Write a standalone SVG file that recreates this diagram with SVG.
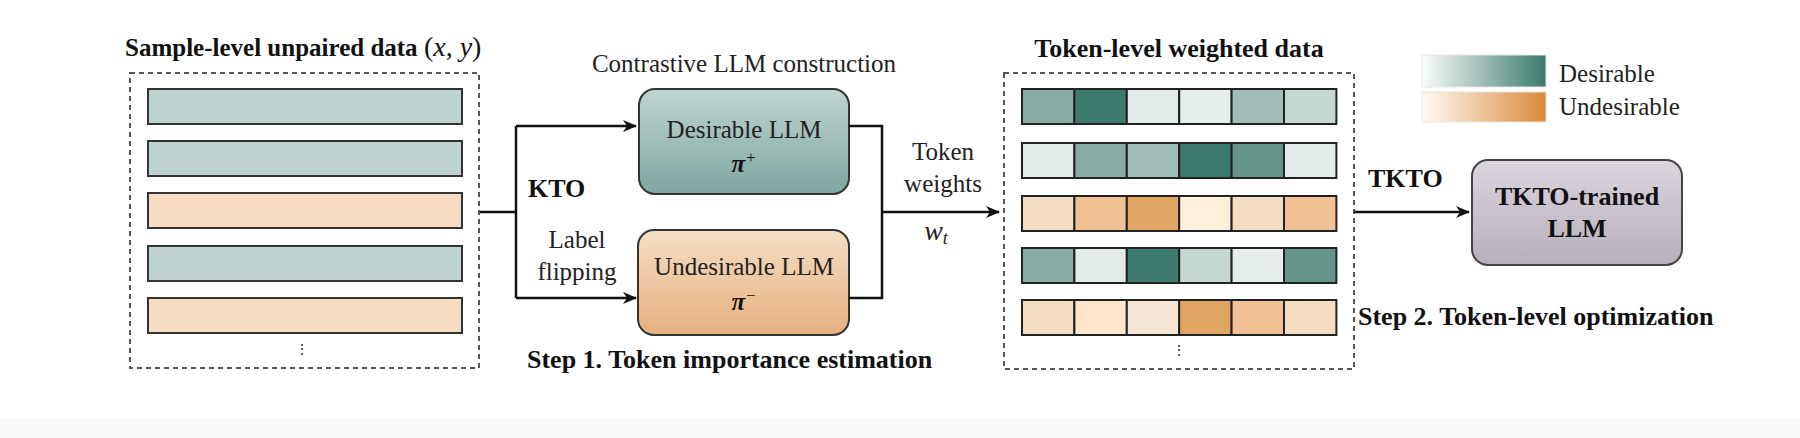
<svg xmlns="http://www.w3.org/2000/svg" width="1800" height="438" viewBox="0 0 1800 438">
<style>
.t{font-family:"Liberation Serif","Times New Roman",serif;fill:#222}
.b{font-weight:bold;fill:#111}
.dash{fill:none;stroke:#555;stroke-width:2;stroke-dasharray:5 4}
.bar{stroke:#333;stroke-width:2}
.cell{stroke:#222;stroke-width:2}
.ln{fill:none;stroke:#111;stroke-width:2.5}
</style>
<defs>
<marker id="ah" viewBox="0 0 14 12" refX="13" refY="6" markerWidth="14" markerHeight="12" markerUnits="userSpaceOnUse" orient="auto"><path d="M0,0 L14,6 L0,12 L4,6 Z" fill="#111"/></marker>
<linearGradient id="gD" x1="0" y1="0" x2="0" y2="1"><stop offset="0" stop-color="#bfd5d1"/><stop offset="1" stop-color="#7ea6a0"/></linearGradient>
<linearGradient id="gU" x1="0" y1="0" x2="0" y2="1"><stop offset="0" stop-color="#f6dec4"/><stop offset="1" stop-color="#e6b07e"/></linearGradient>
<linearGradient id="gT" x1="0" y1="0" x2="0" y2="1"><stop offset="0" stop-color="#dbd5de"/><stop offset="1" stop-color="#b7afbb"/></linearGradient>
<linearGradient id="lD" x1="0" y1="0" x2="1" y2="0"><stop offset="0" stop-color="#fbfdfc"/><stop offset="1" stop-color="#3b7a6c"/></linearGradient>
<linearGradient id="lU" x1="0" y1="0" x2="1" y2="0"><stop offset="0" stop-color="#fffaf4"/><stop offset="1" stop-color="#d9893a"/></linearGradient>
</defs>
<rect width="1800" height="438" fill="#fff"/>
<rect y="418" width="1800" height="20" fill="#fafafa"/>

<g id="sample-data">
<text class="t b" x="125" y="56" font-size="25">Sample-level unpaired data <tspan font-weight="normal" font-size="28">(<tspan font-style="italic">x</tspan>, <tspan font-style="italic">y</tspan>)</tspan></text>
<rect class="dash" x="130" y="73" width="349" height="295"/>
<rect class="bar" x="148" y="89" width="314" height="35" fill="#bfd4d0"/>
<rect class="bar" x="148" y="141" width="314" height="35" fill="#bfd4d0"/>
<rect class="bar" x="148" y="193" width="314" height="35" fill="#f5dcc2"/>
<rect class="bar" x="148" y="246" width="314" height="35" fill="#bfd4d0"/>
<rect class="bar" x="148" y="298" width="314" height="35" fill="#f5dcc2"/>
<text class="t" x="302" y="354" font-size="14" text-anchor="middle">⋮</text>
</g>

<g id="desirable-llm">
<text class="t" x="744" y="72" font-size="25" text-anchor="middle">Contrastive LLM construction</text>
<rect x="639" y="89" width="210" height="105" rx="16" fill="url(#gD)" stroke="#333" stroke-width="2"/>
<text class="t" x="744" y="138" font-size="25" text-anchor="middle">Desirable LLM</text>
<text class="t b" x="744" y="172" font-size="25" text-anchor="middle" font-style="italic">π<tspan baseline-shift="super" font-size="17" font-weight="normal">+</tspan></text>
</g>

<g id="undesirable-llm">
<rect x="638" y="230" width="211" height="105" rx="16" fill="url(#gU)" stroke="#333" stroke-width="2"/>
<text class="t" x="744" y="275" font-size="25" text-anchor="middle">Undesirable LLM</text>
<text class="t b" x="744" y="310" font-size="25" text-anchor="middle" font-style="italic">π<tspan baseline-shift="super" font-size="17" font-weight="normal">−</tspan></text>
<text class="t b" x="527" y="368" font-size="26">Step 1. Token importance estimation</text>
</g>

<g id="token-data">
<text class="t b" x="1179" y="57" font-size="26" text-anchor="middle">Token-level weighted data</text>
<rect class="dash" x="1004" y="73" width="350" height="296"/>
<g transform="translate(1022,89)">
<rect class="cell" x="0" y="0" width="52.4" height="35" fill="#88aba4"/><rect class="cell" x="52.4" y="0" width="52.4" height="35" fill="#3b7a6c"/><rect class="cell" x="104.8" y="0" width="52.4" height="35" fill="#e3ecea"/><rect class="cell" x="157.2" y="0" width="52.4" height="35" fill="#e6eeeb"/><rect class="cell" x="209.6" y="0" width="52.4" height="35" fill="#a0bdb7"/><rect class="cell" x="262" y="0" width="52.4" height="35" fill="#c5d6d3"/>
</g>
<g transform="translate(1022,143)">
<rect class="cell" x="0" y="0" width="52.4" height="35" fill="#e3ecea"/><rect class="cell" x="52.4" y="0" width="52.4" height="35" fill="#88aba4"/><rect class="cell" x="104.8" y="0" width="52.4" height="35" fill="#a0bdb7"/><rect class="cell" x="157.2" y="0" width="52.4" height="35" fill="#3b7a6c"/><rect class="cell" x="209.6" y="0" width="52.4" height="35" fill="#65948a"/><rect class="cell" x="262" y="0" width="52.4" height="35" fill="#e3ecea"/>
</g>
<g transform="translate(1022,196)">
<rect class="cell" x="0" y="0" width="52.4" height="35" fill="#f5ddc2"/><rect class="cell" x="52.4" y="0" width="52.4" height="35" fill="#f1c194"/><rect class="cell" x="104.8" y="0" width="52.4" height="35" fill="#e0a563"/><rect class="cell" x="157.2" y="0" width="52.4" height="35" fill="#fff0dc"/><rect class="cell" x="209.6" y="0" width="52.4" height="35" fill="#f5ddc2"/><rect class="cell" x="262" y="0" width="52.4" height="35" fill="#f1c194"/>
</g>
<g transform="translate(1022,248)">
<rect class="cell" x="0" y="0" width="52.4" height="35" fill="#88aba4"/><rect class="cell" x="52.4" y="0" width="52.4" height="35" fill="#e3ecea"/><rect class="cell" x="104.8" y="0" width="52.4" height="35" fill="#3b7a6c"/><rect class="cell" x="157.2" y="0" width="52.4" height="35" fill="#c5d6d3"/><rect class="cell" x="209.6" y="0" width="52.4" height="35" fill="#e6eeeb"/><rect class="cell" x="262" y="0" width="52.4" height="35" fill="#65948a"/>
</g>
<g transform="translate(1022,300)">
<rect class="cell" x="0" y="0" width="52.4" height="35" fill="#f5ddc2"/><rect class="cell" x="52.4" y="0" width="52.4" height="35" fill="#ffe6cc"/><rect class="cell" x="104.8" y="0" width="52.4" height="35" fill="#f7e6d6"/><rect class="cell" x="157.2" y="0" width="52.4" height="35" fill="#e0a563"/><rect class="cell" x="209.6" y="0" width="52.4" height="35" fill="#f1c194"/><rect class="cell" x="262" y="0" width="52.4" height="35" fill="#f5ddc2"/>
</g>
<text class="t" x="1179" y="355" font-size="14" text-anchor="middle">⋮</text>
</g>

<g id="legend">
<rect x="1422" y="55" width="124" height="32" fill="url(#lD)" stroke="#e6e6e6"/>
<rect x="1422" y="92" width="124" height="30" fill="url(#lU)" stroke="#e6e6e6"/>
<text class="t" x="1559" y="82" font-size="25">Desirable</text>
<text class="t" x="1559" y="115" font-size="25">Undesirable</text>
</g>

<g id="tkto-llm">
<rect x="1472" y="160" width="210" height="105" rx="16" fill="url(#gT)" stroke="#444" stroke-width="2"/>
<text class="t b" x="1577" y="205" font-size="26" text-anchor="middle">TKTO-trained</text>
<text class="t b" x="1577" y="237" font-size="26" text-anchor="middle">LLM</text>
<text class="t b" x="1358" y="325" font-size="26">Step 2. Token-level optimization</text>
</g>

<g id="connectors">
<path class="ln" d="M480,212 H516 M516,126 V298"/>
<path class="ln" d="M516,126 H636" marker-end="url(#ah)"/>
<path class="ln" d="M516,298 H636" marker-end="url(#ah)"/>
<path class="ln" d="M849,126 H882 V298 H849"/>
<path class="ln" d="M882,212 H999" marker-end="url(#ah)"/>
<path class="ln" d="M1354,212 H1469" marker-end="url(#ah)"/>
<text class="t b" x="528" y="197" font-size="26">KTO</text>
<text class="t" x="577" y="248" font-size="25" text-anchor="middle">Label</text>
<text class="t" x="577" y="280" font-size="25" text-anchor="middle">flipping</text>
<text class="t" x="943" y="160" font-size="25" text-anchor="middle">Token</text>
<text class="t" x="943" y="192" font-size="25" text-anchor="middle">weights</text>
<text class="t" x="936" y="240" font-size="28" text-anchor="middle" font-style="italic">w<tspan font-size="18" dy="4">t</tspan></text>
<text class="t b" x="1368" y="187" font-size="26">TKTO</text>
</g>
</svg>
